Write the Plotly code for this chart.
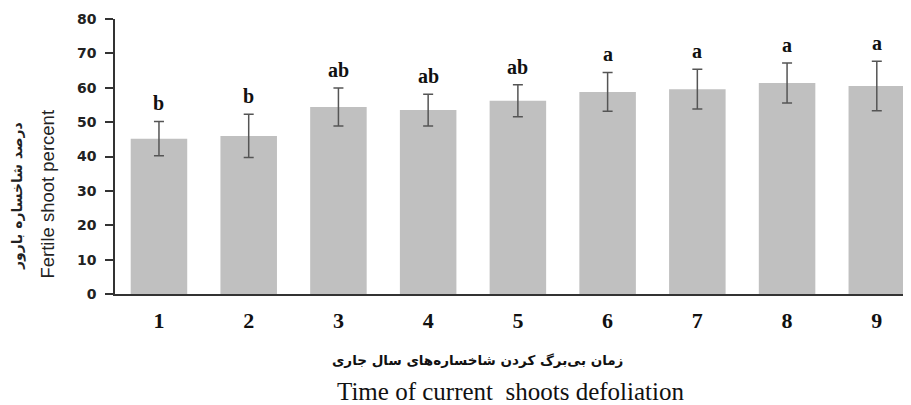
import plotly.graph_objects as go

categories = ["1", "2", "3", "4", "5", "6", "7", "8", "9"]
values = [45.2, 46.0, 54.4, 53.5, 56.2, 58.8, 59.6, 61.4, 60.5]
errors = [5.0, 6.3, 5.5, 4.6, 4.65, 5.65, 5.8, 5.8, 7.2]
letters = ["b", "b", "ab", "ab", "ab", "a", "a", "a", "a"]
y_ticks = [0, 10, 20, 30, 40, 50, 60, 70, 80]

fig = go.Figure()
fig.add_trace(go.Bar(
    x=list(range(len(categories))), y=values,
    marker=dict(color="#c0c0c0", line=dict(width=0)),
    width=0.63,
    error_y=dict(type="data", array=errors, visible=True, color="#555555",
                 thickness=1.5, width=5),
))

for i, (v, e, t) in enumerate(zip(values, errors, letters)):
    fig.add_annotation(x=i, y=v + e, text="<b>" + t + "</b>", showarrow=False, yanchor="bottom",
                       yshift=5, font=dict(family="Liberation Serif", size=20, color="#111"))

fig.add_annotation(xref="paper", yref="paper", x=-0.1233, y=0.356, text="<b>درصد شاخساره بارور</b>",
                   textangle=-90, showarrow=False, xanchor="center", yanchor="middle",
                   font=dict(family="DejaVu Sans", size=14, color="#222"))
fig.add_annotation(xref="paper", yref="paper", x=-0.0843, y=0.365, text="Fertile shoot percent",
                   textangle=-90, showarrow=False, xanchor="center", yanchor="middle",
                   font=dict(family="Liberation Sans", size=18.5, color="#222"))
fig.add_annotation(xref="paper", yref="paper", x=0.4566, y=-0.24, text="<b>زمان بی‌برگ کردن شاخساره‌های سال جاری</b>",
                   showarrow=False, xanchor="center", yanchor="middle",
                   font=dict(family="DejaVu Sans", size=13.5, color="#111"))
fig.add_annotation(xref="paper", yref="paper", x=0.498, y=-0.356, text="Time of current  shoots defoliation",
                   showarrow=False, xanchor="center", yanchor="middle",
                   font=dict(family="Liberation Serif", size=25, color="#111"))

fig.update_layout(
    width=903, height=397,
    margin=dict(l=107, r=1, t=11, b=111),
    plot_bgcolor="white", paper_bgcolor="white",
    showlegend=False,
    xaxis=dict(range=[-0.49, 8.37], tickmode="array", tickvals=list(range(len(categories))),
               ticktext=["<b>" + c + "</b>" for c in categories], showgrid=False, zeroline=False,
               showline=True, linecolor="#333", linewidth=2, ticks="",
               tickfont=dict(family="Liberation Serif", size=22, color="#111"),
               ticklabelstandoff=6),
    yaxis=dict(range=[0, 80], tickvals=y_ticks, showgrid=False, zeroline=False,
               showline=True, linecolor="#333", linewidth=1.5, ticks="outside",
               ticklen=8, tickcolor="#333", tickwidth=1.5, ticklabelstandoff=6,
               tickfont=dict(family="DejaVu Sans", size=14, color="#222", weight="bold")),
)

fig.write_html("out.html")
